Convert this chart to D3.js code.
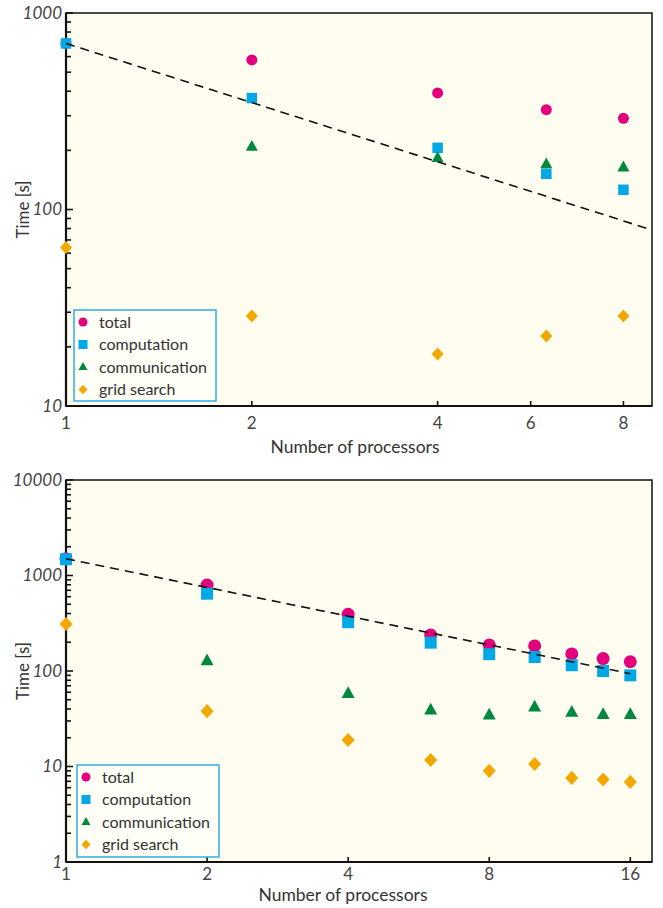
<!DOCTYPE html>
<html>
<head>
<meta charset="utf-8">
<script src="https://cdn.jsdelivr.net/npm/d3@7"></script>
<style>
  html, body { margin: 0; padding: 0; background: #ffffff; }
  svg { display: block; font-family: Lato, "Open Sans", sans-serif; }
</style>
</head>
<body>
<svg id="chart" width="663" height="908"></svg>
<script>
// ---- Upper panel: timing on up to 8 processors ----
const topProcs         = [1, 2, 4, 6, 8];
const topTotal         = [700, 577, 392, 322, 291];
const topComputation   = [700, 369, 206, 152, 126];
const topCommunication = [null, 209, 183, 170, 164];
const topGridSearch    = [64, 28.7, 18.4, 22.7, 28.7];
const topXTicks        = [1, 2, 4, 5.66, 8];
const topXTickLabels   = ["1", "2", "4", "6", "8"];
const topYTicks        = [10, 100, 1000];
const topYTickLabels   = ["10", "100", "1000"];
const topIdealT1       = 700;

// ---- Lower panel: timing on up to 16 processors ----
const botProcs         = [1, 2, 4, 6, 8, 10, 12, 14, 16];
const botTotal         = [1500, 795, 393, 238, 187, 183, 151, 135, 125];
const botComputation   = [1480, 645, 324, 198, 150, 140, 115, 100, 90];
const botCommunication = [null, 128, 58, 39, 34.6, 42, 37, 35, 35];
const botGridSearch    = [310, 38, 18.9, 11.7, 9.0, 10.6, 7.6, 7.3, 6.9];
const botXTicks        = [1, 2, 4, 8, 16];
const botXTickLabels   = ["1", "2", "4", "8", "16"];
const botYTicks        = [1, 10, 100, 1000, 10000];
const botYTickLabels   = ["1", "10", "100", "1000", "10000"];
const botIdealT1       = 1500;

const seriesNames  = ["total", "computation", "communication", "grid search"];
const seriesColors = ["#e4007c", "#00a8e6", "#00883f", "#f2a800"];
const seriesShapes = ["circle", "square", "triangle", "diamond"];

const svg = d3.select("#chart");

function markerPath(shape, s) {
  // s: nominal marker width in px
  const h = s / 2;
  if (shape === "circle") return d3.symbol(d3.symbolCircle, Math.PI * h * h)();
  if (shape === "square") return `M${-h},${-h}H${h}V${h}H${-h}Z`;
  if (shape === "triangle") {
    const th = s * 0.9;
    return `M0,${-th * 0.62}L${h},${th * 0.38}L${-h},${th * 0.38}Z`;
  }
  // diamond
  return `M0,${-h * 1.08}L${h},0L0,${h * 1.08}L${-h},0Z`;
}

function drawPanel(cfg) {
  const g = svg.append("g");
  const x = d3.scaleLog().domain(cfg.xDomain).range([cfg.left, cfg.right]);
  const y = d3.scaleLog().domain(cfg.yDomain).range([cfg.bottom, cfg.top]);

  // plot background
  g.append("rect")
    .attr("x", cfg.left).attr("y", cfg.top)
    .attr("width", cfg.right - cfg.left).attr("height", cfg.bottom - cfg.top)
    .attr("fill", "#fffdef");

  // y minor/major ticks (inward)
  const yMinor = [];
  const [y0, y1] = cfg.yDomain;
  for (let d = y0; d < y1; d *= 10) {
    for (let k = 2; k <= 9; k++) yMinor.push(d * k);
  }
  g.selectAll(".ymin").data(yMinor).join("line")
    .attr("x1", cfg.left).attr("x2", cfg.left + 5)
    .attr("y1", d => y(d)).attr("y2", d => y(d))
    .attr("stroke", "#111").attr("stroke-width", 1.6);
  g.selectAll(".ymaj").data(cfg.yTicks).join("line")
    .attr("x1", cfg.left).attr("x2", cfg.left + 7)
    .attr("y1", d => y(d)).attr("y2", d => y(d))
    .attr("stroke", "#111").attr("stroke-width", 1.6);

  // x ticks (inward)
  g.selectAll(".xt").data(cfg.xTicks).join("line")
    .attr("x1", d => x(d)).attr("x2", d => x(d))
    .attr("y1", cfg.bottom).attr("y2", cfg.bottom - 5)
    .attr("stroke", "#111").attr("stroke-width", 1.6);

  // frame
  g.append("rect")
    .attr("x", cfg.left).attr("y", cfg.top)
    .attr("width", cfg.right - cfg.left).attr("height", cfg.bottom - cfg.top)
    .attr("fill", "none").attr("stroke", "#111").attr("stroke-width", 1.5);
  g.append("line")
    .attr("x1", cfg.left).attr("x2", cfg.left)
    .attr("y1", cfg.top).attr("y2", cfg.bottom)
    .attr("stroke", "#111").attr("stroke-width", 2.2);
  g.append("line")
    .attr("x1", cfg.left).attr("x2", cfg.right)
    .attr("y1", cfg.bottom).attr("y2", cfg.bottom)
    .attr("stroke", "#111").attr("stroke-width", 2.2);

  // tick labels
  g.selectAll(".ytl").data(cfg.yTicks).join("text")
    .attr("x", cfg.left - 4).attr("y", d => y(d))
    .attr("dy", "0.35em").attr("text-anchor", "end")
    .attr("font-size", 17).attr("font-style", "italic").attr("fill", "#444")
    .text((d, i) => cfg.yTickLabels[i]);
  g.selectAll(".xtl").data(cfg.xTicks).join("text")
    .attr("x", d => x(d)).attr("y", cfg.bottom + cfg.tickDy)
    .attr("text-anchor", "middle")
    .attr("font-size", 17).attr("fill", "#444")
    .text((d, i) => cfg.xTickLabels[i]);

  // axis titles
  g.append("text")
    .attr("x", cfg.xTitleX).attr("y", cfg.bottom + cfg.titleDy)
    .attr("text-anchor", "middle").attr("font-size", 17.5).attr("fill", "#333")
    .text("Number of processors");
  g.append("text")
    .attr("transform", `translate(${cfg.left - 37},${(cfg.top + cfg.bottom) / 2}) rotate(-90)`)
    .attr("text-anchor", "middle").attr("font-size", 17).attr("fill", "#333")
    .text("Time [s]");

  // markers
  const series = [cfg.total, cfg.computation, cfg.communication, cfg.grid];
  series.forEach((vals, si) => {
    const pts = cfg.procs.map((p, i) => ({ p, v: vals[i] })).filter(d => d.v != null);
    g.selectAll(null).data(pts).join("path")
      .attr("transform", d => `translate(${x(d.p)},${y(d.v)})`)
      .attr("d", markerPath(seriesShapes[si], cfg.markerSize[si]))
      .attr("fill", seriesColors[si]);
  });

  // ideal scaling reference T1 / p
  const idealPts = d3.range(0, 41).map(i => {
    const p = Math.exp(Math.log(cfg.idealEnd) * i / 40);
    return [x(p), y(cfg.idealT1 / p)];
  });
  g.append("path")
    .attr("d", d3.line()(idealPts))
    .attr("fill", "none").attr("stroke", "#111").attr("stroke-width", 1.6)
    .attr("stroke-dasharray", "9,6");

  // legend
  const lg = g.append("g");
  lg.append("rect")
    .attr("x", cfg.legend.x).attr("y", cfg.legend.y)
    .attr("width", cfg.legend.w).attr("height", cfg.legend.h)
    .attr("fill", "#fffef7").attr("stroke", "#2eaee4").attr("stroke-width", 1.5);
  seriesNames.forEach((name, i) => {
    const ry = cfg.legend.y + cfg.legend.row0 + i * cfg.legend.dy;
    lg.append("path")
      .attr("transform", `translate(${cfg.legend.x + cfg.legend.mx},${ry})`)
      .attr("d", markerPath(seriesShapes[i], 9))
      .attr("fill", seriesColors[i]);
    lg.append("text")
      .attr("x", cfg.legend.x + cfg.legend.tx).attr("y", ry)
      .attr("dy", "0.35em").attr("font-size", 16).attr("fill", "#333")
      .text(name);
  });
}

drawPanel({
  left: 66, right: 652, top: 13, bottom: 406,
  xDomain: [1, 8.9], yDomain: [10, 1000],
  xTicks: topXTicks, xTickLabels: topXTickLabels,
  yTicks: topYTicks, yTickLabels: topYTickLabels,
  procs: topProcs, total: topTotal, computation: topComputation,
  communication: topCommunication, grid: topGridSearch,
  idealT1: topIdealT1, idealEnd: 8.9,
  markerSize: [11, 10.5, 12, 12],
  xTitleX: 355, tickDy: 23, titleDy: 47,
  legend: { x: 74, y: 310, w: 142, h: 91, row0: 12, dy: 22.5, mx: 9, tx: 25 }
});

drawPanel({
  left: 66, right: 652, top: 480, bottom: 862,
  xDomain: [1, 17.8], yDomain: [1, 10000],
  xTicks: botXTicks, xTickLabels: botXTickLabels,
  yTicks: botYTicks, yTickLabels: botYTickLabels,
  procs: botProcs, total: botTotal, computation: botComputation,
  communication: botCommunication, grid: botGridSearch,
  idealT1: botIdealT1, idealEnd: 16,
  markerSize: [13, 12, 13, 13],
  xTitleX: 343, tickDy: 18, titleDy: 39,
  legend: { x: 77, y: 765, w: 142, h: 92, row0: 12, dy: 22.5, mx: 9, tx: 25 }
});
</script>
</body>
</html>
